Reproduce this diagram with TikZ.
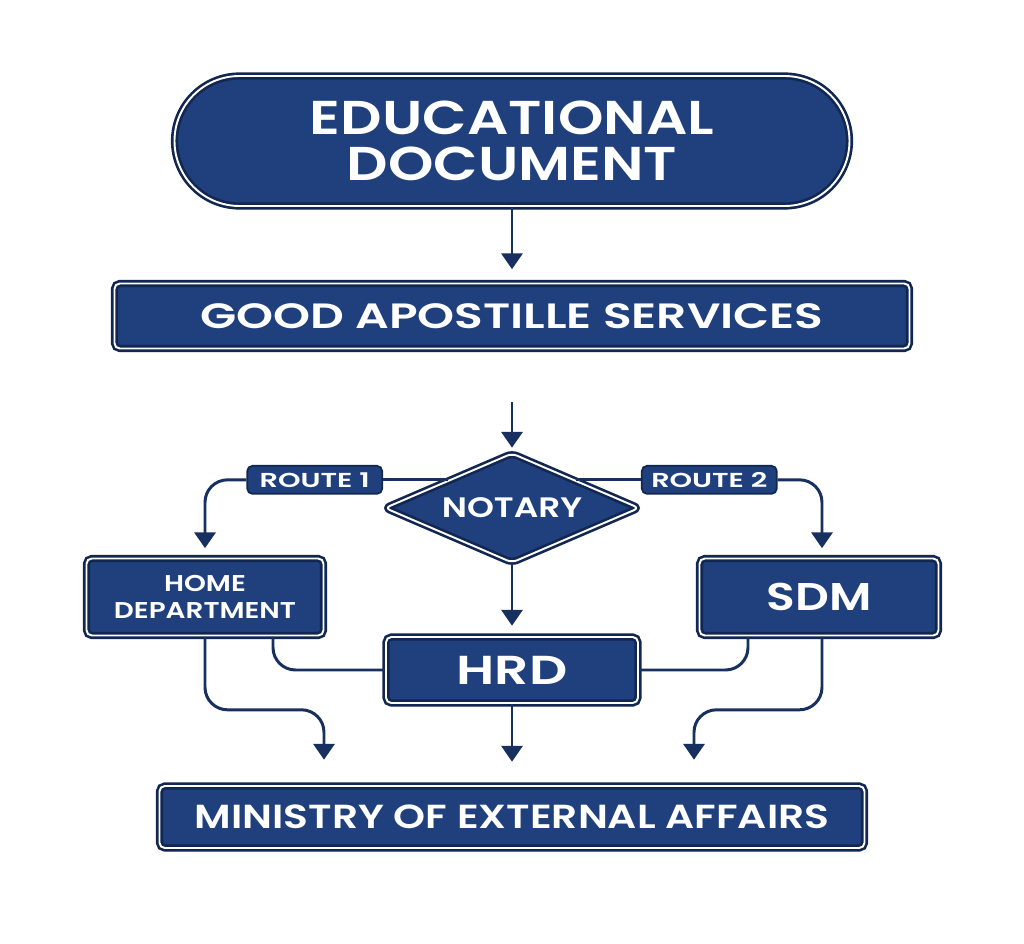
\documentclass[tikz,border=0pt]{standalone}
\usepackage{fontspec}
\setmainfont{Poppins}[BoldFont={Poppins SemiBold}, FakeStretch=1.22]
\usetikzlibrary{arrows.meta}
\usetikzlibrary{positioning, shapes.geometric, shadows}

\definecolor{navyfill}{RGB}{31,64,125}
\definecolor{navyedge}{RGB}{17,38,80}
\definecolor{navyline}{RGB}{24,48,96}

\begin{document}
\begin{tikzpicture}[
  box/.style={rectangle, rounded corners=3pt, draw=navyedge, double=white, double distance=1.1pt, line width=1.5pt, fill=navyfill, text=white, align=center, inner sep=0pt, drop shadow={opacity=0.18, shadow xshift=0.03cm, shadow yshift=-0.07cm}},
  tag/.style={rectangle, rounded corners=3pt, draw=navyedge, line width=1pt, fill=navyfill, text=white, inner sep=0pt, minimum width=2.7cm, minimum height=0.56cm, font=\fontsize{11.5}{12}\selectfont\bfseries\addfontfeatures{FakeStretch=1.42}},
  link/.style={draw=navyline, line width=1.7pt, rounded corners=0.45cm},
  arrow/.style={link, -{Triangle[length=9pt, width=12pt]}}
]
  \useasboundingbox (0,0) rectangle (20.48,-18.88);

  % --- Boxes ---

  % Educational document
  \node[box, rounded corners=1.3cm, minimum width=13.5cm, minimum height=2.6cm, font=\fontsize{27}{26}\selectfont\bfseries] (doc) at (10.24,-2.82) {EDUCATIONAL\\DOCUMENT};

  % Good Apostille Services
  \node[box, minimum width=15.9cm, minimum height=1.3cm, font=\fontsize{20}{20}\selectfont\bfseries\addfontfeatures{FakeStretch=1.34}] (good) at (10.24,-6.32) {GOOD APOSTILLE SERVICES};
  \coordinate[below=1.04cm of good.south] (entry);

  % Notary
  \node[box, diamond, aspect=2.3, minimum width=5.1cm, minimum height=2.2cm, font=\fontsize{16}{16}\selectfont\bfseries] (notary) at (10.24,-10.16) {NOTARY};

  % Routes
  \node[tag, left=1.29cm of notary.north west] (route1) {ROUTE 1};
  \node[tag, right=1.29cm of notary.north east] (route2) {ROUTE 2};

  % Home Department
  \node[box, minimum width=4.74cm, minimum height=1.54cm, font=\fontsize{13}{15}\selectfont\bfseries] (home) at (4.10,-11.94) {HOME\\DEPARTMENT};

  % SDM
  \node[box, minimum width=4.78cm, minimum height=1.54cm, font=\fontsize{22}{22}\selectfont\bfseries] (sdm) at (16.38,-11.94) {SDM};

  % HRD
  \node[box, minimum width=5.04cm, minimum height=1.32cm, font=\fontsize{23}{23}\selectfont\bfseries\addfontfeatures{FakeStretch=1.32}] (hrd) at (10.24,-13.40) {HRD};

  % Ministry of External Affairs
  \node[box, minimum width=14.1cm, minimum height=1.24cm, font=\fontsize{19}{19}\selectfont\bfseries] (mea) at (10.24,-16.34) {MINISTRY OF EXTERNAL AFFAIRS};

  % --- Connectors ---
  \draw[arrow, shorten >=0.26cm] (doc.south) -- (good.north);
  \draw[arrow, shorten >=0.08cm] (entry) -- (notary.north);

  % Notary and routes
  \draw[link] (route1.east) -- (route1.east -| notary.north west);
  \draw[link] (route2.west) -- (route2.west -| notary.north east);
  \draw[arrow, shorten >=0.18cm] (route1.west) -| (home.north);
  \draw[arrow, shorten >=0.18cm] (route2.east) -| ([xshift=0.06cm]sdm.north);

  % Notary and HRD
  \draw[arrow, shorten >=0.2cm] (notary.south) -- (hrd.north);

  % Home Department, SDM and HRD
  \draw[link] ([xshift=1.36cm]home.south) |- (hrd.west);
  \draw[link] ([xshift=-1.42cm]sdm.south) |- (hrd.east);

  % Into the Ministry
  \draw[arrow, shorten >=0.5cm] (home.south) -- ++(0,-1.46) -| ([xshift=-3.76cm]mea.north);
  \draw[arrow, shorten >=0.46cm] (hrd.south) -- (mea.north);
  \draw[arrow, shorten >=0.5cm] ([xshift=0.06cm]sdm.south) -- ++(0,-1.46) -| ([xshift=3.64cm]mea.north);

\end{tikzpicture}
\end{document}
